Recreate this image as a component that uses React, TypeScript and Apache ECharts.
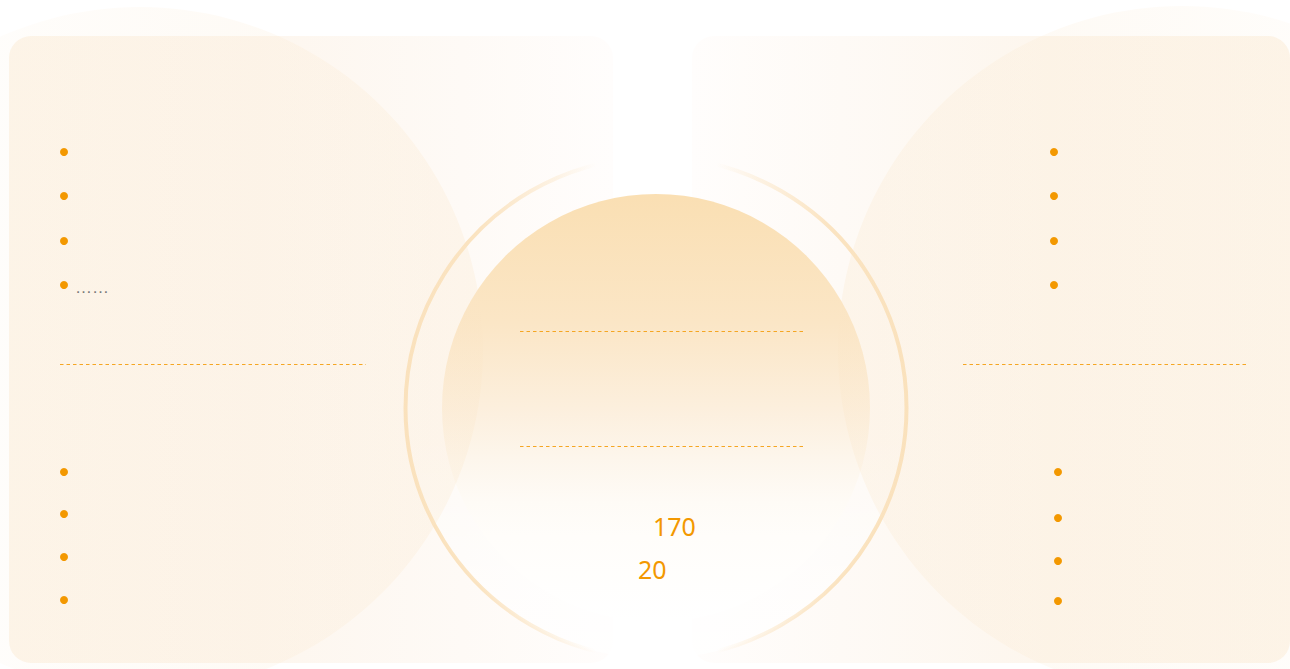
import React, { useEffect, useRef } from "react";
import * as echarts from "echarts";

// ---- data (texts) ----
const leftTopItems: string[] = ["", "", "", "……"];
const leftBottomItems: string[] = ["", "", "", ""];
const rightTopItems: string[] = ["", "", "", ""];
const rightBottomItems: string[] = ["", "", "", ""];
const centerValues: string[] = ["170", "20"];

// ---- layout ----
const W = 1290;
const H = 669;
const ORANGE = "#f39800";
const DASH = "#f5a623";
const leftTopRows = [152, 196, 241, 285];
const leftBottomRows = [472, 514, 557, 600];
const rightTopRows = [152, 196, 241, 285];
const rightBottomRows = [472, 518, 561, 601];
const centerValuePos = [
  { x: 653, y: 526 },
  { x: 638, y: 569 },
];

type Stop = [number, string];
const lg = (x2: number, y2: number, stops: Stop[]) => ({
  type: "linear",
  x: 0,
  y: 0,
  x2,
  y2,
  colorStops: stops.map(([offset, color]) => ({ offset, color })),
});

function bulletList(items: string[], rows: number[], bx: number) {
  const els: any[] = [];
  items.forEach((t, i) => {
    els.push({
      type: "circle",
      shape: { cx: bx, cy: rows[i], r: 4 },
      style: { fill: ORANGE },
      silent: true,
    });
    if (t) {
      els.push({
        type: "text",
        x: bx + 11,
        y: rows[i] + 2,
        style: {
          text: t,
          fill: "#7a7a7a",
          fontSize: 17,
          fontFamily: "Liberation Sans, Arial, sans-serif",
          verticalAlign: "middle",
          align: "left",
        },
        silent: true,
      });
    }
  });
  return els;
}

function dashLine(x1: number, x2: number, y: number) {
  return {
    type: "line",
    shape: { x1, y1: y + 0.5, x2, y2: y + 0.5 },
    style: { stroke: DASH, lineWidth: 1, lineDash: [3.5, 3] },
    silent: true,
  };
}

export default function App() {
  const ref = useRef<HTMLDivElement>(null);
  useEffect(() => {
    document.body.style.margin = "0";
    if (!ref.current) return;
    const chart = echarts.init(ref.current, undefined, { renderer: "svg" });
    const elements: any[] = [
      // panels
      {
        type: "rect",
        shape: { x: 9, y: 36, width: 604, height: 627, r: 22 },
        style: {
          fill: lg(1, 0, [
            [0, "#fdf5ea"],
            [0.4, "#fdf6ee"],
            [0.75, "#fefaf6"],
            [1, "#fffdfc"],
          ]),
        },
        silent: true,
      },
      {
        type: "rect",
        shape: { x: 692, y: 36, width: 598, height: 627, r: 22 },
        style: {
          fill: lg(1, 0, [
            [0, "#fffdfc"],
            [0.25, "#fefaf6"],
            [0.6, "#fdf6ed"],
            [1, "#fdf5ea"],
          ]),
        },
        silent: true,
      },
      // outer ring
      {
        type: "circle",
        shape: { cx: 656, cy: 408, r: 250.5 },
        style: {
          fill: lg(0, 1, [[0, "rgba(255,255,255,0)"], [0.55, "rgba(255,255,255,0)"], [1, "rgba(255,255,255,0.85)"]]),
          stroke: lg(1, 0, [
            [0, "rgba(247,205,140,0.55)"],
            [0.15, "rgba(247,205,140,0.5)"],
            [0.3, "rgba(247,205,140,0.2)"],
            [0.38, "rgba(247,205,140,0)"],
            [0.62, "rgba(247,205,140,0)"],
            [0.7, "rgba(247,205,140,0.2)"],
            [0.85, "rgba(247,205,140,0.5)"],
            [1, "rgba(247,205,140,0.55)"],
          ]),
          lineWidth: 4,
        },
        silent: true,
      },
      // central disc
      {
        type: "circle",
        shape: { cx: 656, cy: 408, r: 214 },
        style: {
          fill: lg(0, 1, [
            [0, "#fadfb3"],
            [0.3, "#fbe6c6"],
            [0.5, "#fcefdd"],
            [0.62, "#fdf6ec"],
            [0.72, "#fefbf6"],
            [0.8, "#fffdfa"],
            [1, "#ffffff"],
          ]),
        },
        silent: true,
      },
      // big side circles (on top, translucent)
      {
        type: "circle",
        shape: { cx: 140, cy: 350, r: 343 },
        style: { fill: lg(1, 0, [[0, "rgba(250,228,196,0)"], [1, "rgba(250,228,196,0.24)"]]) },
        silent: true,
      },
      {
        type: "circle",
        shape: { cx: 1182, cy: 350, r: 344 },
        style: { fill: lg(1, 0, [[0, "rgba(250,228,196,0.24)"], [1, "rgba(250,228,196,0)"]]) },
        silent: true,
      },
      dashLine(60, 366, 364),
      dashLine(963, 1247, 364),
      dashLine(520, 804, 331),
      dashLine(520, 804, 446),
      ...bulletList(leftTopItems, leftTopRows, 64),
      ...bulletList(leftBottomItems, leftBottomRows, 64),
      ...bulletList(rightTopItems, rightTopRows, 1054),
      ...bulletList(rightBottomItems, rightBottomRows, 1058),
      ...centerValues.map((v, i) => ({
        type: "text",
        x: centerValuePos[i].x,
        y: centerValuePos[i].y,
        style: {
          text: v,
          fill: ORANGE,
          fontSize: 25,
          fontFamily: "Noto Sans, sans-serif",
          verticalAlign: "middle",
          align: "left",
        },
        silent: true,
      })),
    ];
    chart.setOption({
      animation: false,
      backgroundColor: "#ffffff",
      graphic: { elements },
    });
    return () => chart.dispose();
  }, []);
  return <div ref={ref} style={{ width: W, height: H }} />;
}
